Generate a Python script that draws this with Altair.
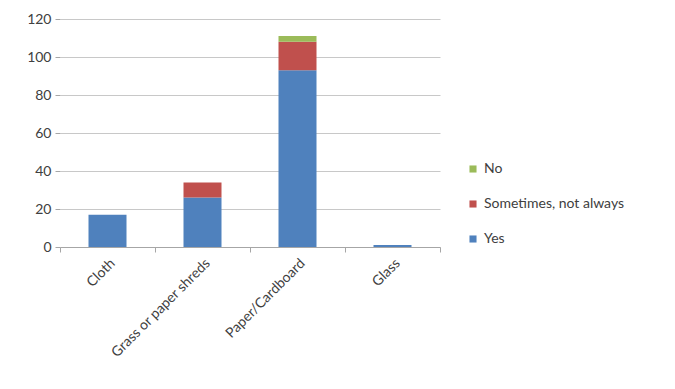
import altair as alt
import pandas as pd

# Material categories and response counts per category
categories = ["Cloth", "Grass or paper shreds", "Paper/Cardboard", "Glass"]
yes_counts = [17, 26, 93, 1]
sometimes_counts = [0, 8, 15, 0]
no_counts = [0, 0, 3, 0]

responses = ["No", "Sometimes, not always", "Yes"]
colors = ["#9BBB59", "#C0504D", "#4F81BD"]
stack_rank = {"Yes": 0, "Sometimes, not always": 1, "No": 2}
y_ticks = [0, 20, 40, 60, 80, 100, 120]

rows = []
for i, cat in enumerate(categories):
    for resp, vals in (("Yes", yes_counts), ("Sometimes, not always", sometimes_counts), ("No", no_counts)):
        rows.append({"category": cat, "response": resp, "count": vals[i], "rank": stack_rank[resp]})
df = pd.DataFrame(rows)

FONT = "Lato"
TXT = "#404040"

chart = alt.Chart(df).mark_bar(width=alt.RelativeBandSize(0.4)).encode(
    x=alt.X("category:N", sort=categories, title=None,
            scale=alt.Scale(paddingInner=0, paddingOuter=0),
            axis=alt.Axis(labelAngle=-45, labelFontSize=14, labelColor=TXT, labelFont=FONT,
                          tickBand="extent", tickSize=5, tickColor="#a6a6a6",
                          domainColor="#a6a6a6", labelPadding=4, labelOverlap=False, grid=False)),
    y=alt.Y("sum(count):Q", title=None,
            scale=alt.Scale(domain=[0, 120]),
            axis=alt.Axis(values=y_ticks, labelFontSize=14, labelColor=TXT,
                          labelFont=FONT, domain=False, tickColor="#a6a6a6", tickSize=5,
                          gridColor="#c8c8c8", labelPadding=4, labelOverlap=False)),
    color=alt.Color("response:N", scale=alt.Scale(domain=responses, range=colors), title=None,
                    legend=alt.Legend(orient="none", legendX=406, legendY=143, symbolType="square",
                                      symbolSize=50, symbolStrokeWidth=0, labelFontSize=14,
                                      labelColor=TXT, labelFont=FONT, rowPadding=21, labelOffset=4)),
    order=alt.Order("rank:Q"),
).properties(
    width=380, height=228,
    background="white",
    autosize=alt.AutoSizeParams(type="none"),
    padding={"left": 60, "top": 19, "right": 235, "bottom": 142},
).configure_view(strokeWidth=0)

chart.save("out.html", embed_options={"renderer": "svg", "actions": False})
